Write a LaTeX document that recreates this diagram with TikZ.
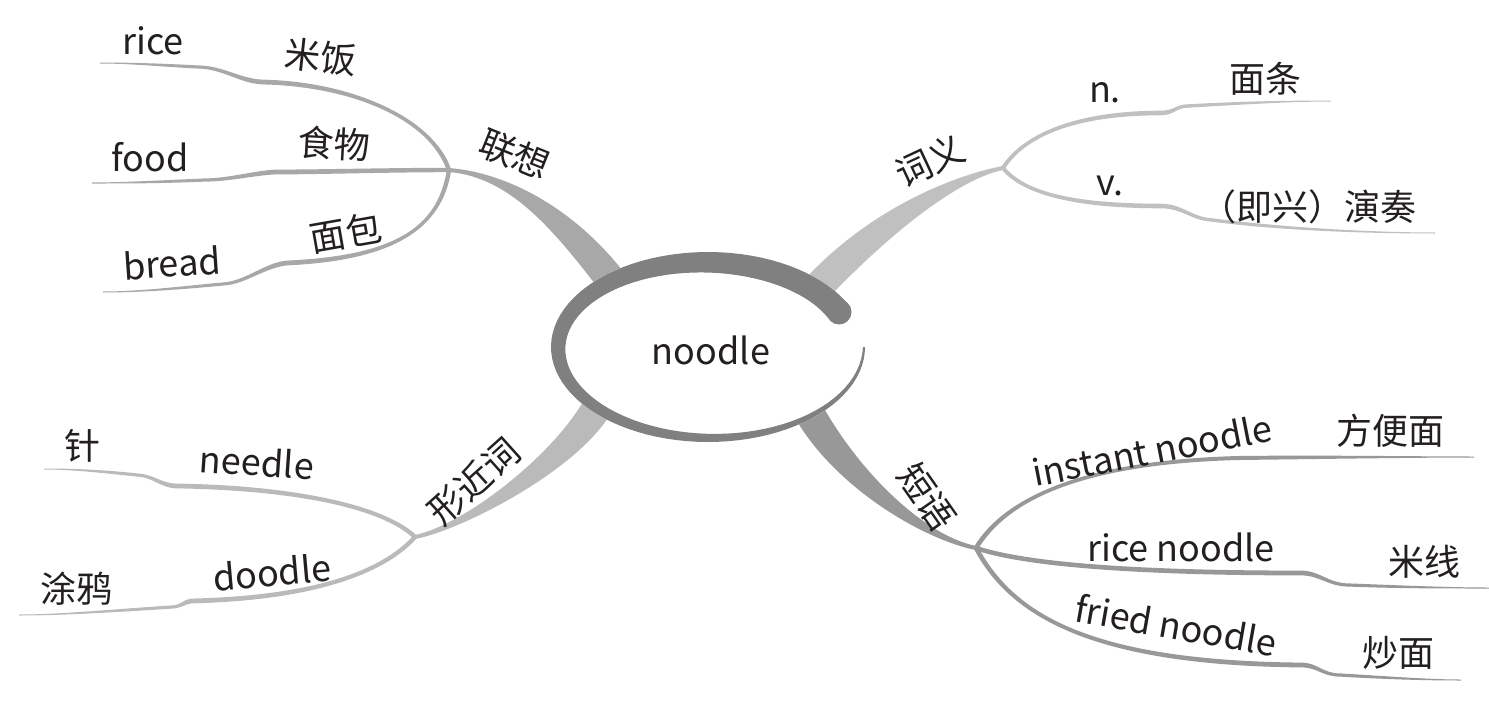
\documentclass[tikz,border=0pt]{standalone}
\usepackage{fontspec}
\setmainfont{Noto Sans CJK SC}
\usetikzlibrary{calc}
\definecolor{txt}{RGB}{35,31,32}
\definecolor{ringc}{RGB}{128,128,128}
\definecolor{bA}{RGB}{168,168,168}
\definecolor{bB}{RGB}{192,192,192}
\definecolor{bC}{RGB}{186,186,186}
\definecolor{bD}{RGB}{152,152,152}
\tikzset{
  lat/.style={font=\fontsize{36}{38}\selectfont, text=txt, inner sep=0pt},
  cjk/.style={font=\fontsize{36}{38}\selectfont, text=txt, inner sep=0pt}
}
% tapered bezier: [style]{A}{C1}{C2}{B}{half width at A}{half width at B}
\newcommand\tpr[7][]{%
  \path (#2) coordinate (tA) (#3) coordinate (tC) (#4) coordinate (tD) (#5) coordinate (tB);
  \path ($(tA)!#6!90:(tC)$) coordinate (tA1) ($(tA)!#6!-90:(tC)$) coordinate (tA2)
        ($(tB)!#7!-90:(tD)$) coordinate (tB1) ($(tB)!#7!90:(tD)$) coordinate (tB2);
  \fill[#1] (tA1) .. controls ($(tC)+(tA1)-(tA)$) and ($(tD)+(tB1)-(tB)$) .. (tB1)
    -- (tB2) .. controls ($(tD)+(tB2)-(tB)$) and ($(tC)+(tA2)-(tA)$) .. (tA2) -- cycle;
}
\begin{document}
\begin{tikzpicture}[x=1pt,y=-1pt]
\useasboundingbox (0,0) rectangle (1489,701);
% hubs and ellipse anchors
\coordinate (jl) at (449,170);
\coordinate (jc) at (1003,168);
\coordinate (jx) at (415,537);
\coordinate (jd) at (976,548);
\coordinate (el) at (614,284);
\coordinate (ec) at (820,285);
\coordinate (ex) at (600,402);
\coordinate (ed) at (805,405);
% main branches
\tpr[fill=bA]{jl}{510,175}{565,220}{el}{2pt}{15pt}
\tpr[fill=bB]{jc}{965,175}{890,212}{ec}{2pt}{15pt}
\tpr[fill=bC]{jx}{465,527}{570,460}{ex}{2pt}{15pt}
\tpr[fill=bD]{jd}{925,538}{845,480}{ed}{2pt}{15pt}
% leaves: lianxiang
\coordinate (rice1) at (262,82); \coordinate (rice2) at (198,67); \coordinate (riceE) at (100,63);
\tpr[fill=bA]{jl}{432,120}{355,84}{rice1}{2.2pt}{2.4pt}
\tpr[fill=bA]{rice1}{240,81}{222,67}{rice2}{2.4pt}{1.6pt}
\tpr[fill=bA]{rice2}{160,65}{130,63}{riceE}{1.6pt}{0.5pt}
\coordinate (food1) at (275,172); \coordinate (food2) at (205,180); \coordinate (foodE) at (92,183);
\tpr[fill=bA]{jl}{390,170}{320,172}{food1}{2.2pt}{2.4pt}
\tpr[fill=bA]{food1}{255,173}{228,180}{food2}{2.4pt}{1.6pt}
\tpr[fill=bA]{food2}{160,182}{120,183}{foodE}{1.6pt}{0.5pt}
\coordinate (bread1) at (287,263); \coordinate (bread2) at (223,284); \coordinate (breadE) at (103,292);
\tpr[fill=bA]{jl}{440,228}{395,258}{bread1}{2.2pt}{2.4pt}
\tpr[fill=bA]{bread1}{265,265}{245,283}{bread2}{2.4pt}{1.6pt}
\tpr[fill=bA]{bread2}{180,288}{140,292}{breadE}{1.6pt}{0.5pt}
% leaves: ciyi
\coordinate (n1) at (1161,113); \coordinate (n2) at (1188,106); \coordinate (nE) at (1331,101);
\tpr[fill=bB]{jc}{1022,138}{1070,113}{n1}{2pt}{2.3pt}
\tpr[fill=bB]{n1}{1174,113}{1176,106}{n2}{2.3pt}{1.7pt}
\tpr[fill=bB]{n2}{1240,103}{1290,101}{nE}{1.7pt}{0.5pt}
\coordinate (v1) at (1161,206); \coordinate (v2) at (1212,220); \coordinate (vE) at (1435,233);
\tpr[fill=bB]{jc}{1025,195}{1080,206}{v1}{2pt}{2.3pt}
\tpr[fill=bB]{v1}{1182,206}{1192,219}{v2}{2.3pt}{1.7pt}
\tpr[fill=bB]{v2}{1290,230}{1380,233}{vE}{1.7pt}{0.5pt}
% leaves: xingjinci
\coordinate (ne1) at (178,486); \coordinate (ne2) at (137,475); \coordinate (neE) at (44,469);
\tpr[fill=bC]{jx}{385,508}{300,488}{ne1}{2.2pt}{2.4pt}
\tpr[fill=bC]{ne1}{160,486}{155,476}{ne2}{2.4pt}{1.6pt}
\tpr[fill=bC]{ne2}{100,471}{70,469}{neE}{1.6pt}{0.5pt}
\coordinate (do1) at (191,601); \coordinate (do2) at (172,607); \coordinate (doE) at (19,615);
\tpr[fill=bC]{jx}{385,570}{320,598}{do1}{2.2pt}{2.4pt}
\tpr[fill=bC]{do1}{184,602}{180,607}{do2}{2.4pt}{1.6pt}
\tpr[fill=bC]{do2}{110,611}{60,615}{doE}{1.6pt}{0.5pt}
% leaves: duanyu
\coordinate (in1) at (1239,458); \coordinate (inE) at (1474,457);
\tpr[fill=bD]{jd}{1005,500}{1080,462}{in1}{2.3pt}{2pt}
\tpr[fill=bD]{in1}{1320,457}{1420,457}{inE}{2pt}{0.5pt}
\coordinate (rn1) at (1301,573); \coordinate (rn2) at (1349,585); \coordinate (rnE) at (1489,588);
\tpr[fill=bD]{jd}{1030,566}{1150,573}{rn1}{2.3pt}{2.4pt}
\tpr[fill=bD]{rn1}{1320,573}{1328,585}{rn2}{2.4pt}{1.6pt}
\tpr[fill=bD]{rn2}{1400,587}{1450,588}{rnE}{1.6pt}{0.5pt}
\coordinate (fr1) at (1301,665); \coordinate (fr2) at (1340,675); \coordinate (frE) at (1461,680);
\tpr[fill=bD]{jd}{1012,615}{1090,663}{fr1}{2.3pt}{2.4pt}
\tpr[fill=bD]{fr1}{1318,665}{1322,675}{fr2}{2.4pt}{1.6pt}
\tpr[fill=bD]{fr2}{1390,678}{1430,680}{frE}{1.6pt}{0.5pt}
% central ring
\fill[white] (708,347) ellipse[x radius=157, y radius=95];
\fill[ringc] plot[domain=0:335, samples=90, variable=\t] ({708+157*cos(\t)},{347+95*sin(\t)})
  -- plot[domain=335:0, samples=90, variable=\t] ({708+(157-(2+23*\t/335))*cos(\t)},{347+(95-(2+23*\t/335))*sin(\t)}) -- cycle;
\fill[ringc] (839,312) circle[radius=12.5];
% texts
\node[lat] (tnoodle) at (711,350) {noodle};
\node[lat] (trice) at (153,41) {rice};
\node[cjk, rotate=-6] (tmifan) at (321,57) {米饭};
\node[lat] (tfood) at (150,157) {food};
\node[cjk, rotate=-3] (tshiwu) at (334,144) {食物};
\node[lat, rotate=4] (tbread) at (172,263) {bread};
\node[cjk, rotate=10] (tmianbao) at (346,233) {面包};
\node[cjk, rotate=-22] (tlx) at (515,154) {联想};
\node[cjk, rotate=25] (tcy) at (930,161) {词义};
\node[lat] (tn) at (1105,93) {n.};
\node[cjk] (tmt) at (1265,79) {面条};
\node[lat] (tv) at (1110,186) {v.};
\node[cjk] (tyz) at (1308,207) {（即兴）演奏};
\node[cjk] (tzhen) at (82,446) {针};
\node[lat, rotate=-4] (tneedle) at (257,462) {needle};
\node[cjk] (tty) at (76,589) {涂鸦};
\node[lat, rotate=5] (tdoodle) at (272,572) {doodle};
\node[cjk, rotate=42] (txj) at (474,481) {形近词};
\node[cjk, rotate=-55] (tdy) at (927,497) {短语};
\node[lat, rotate=11] (tin) at (1152,450) {instant noodle};
\node[cjk] (tfbm) at (1390,431) {方便面};
\node[lat] (trn) at (1181,547) {rice noodle};
\node[cjk] (tmx) at (1424,562) {米线};
\node[lat, rotate=-10] (tfn) at (1176,625) {fried noodle};
\node[cjk] (tcm) at (1398,653) {炒面};
\end{tikzpicture}
\end{document}
